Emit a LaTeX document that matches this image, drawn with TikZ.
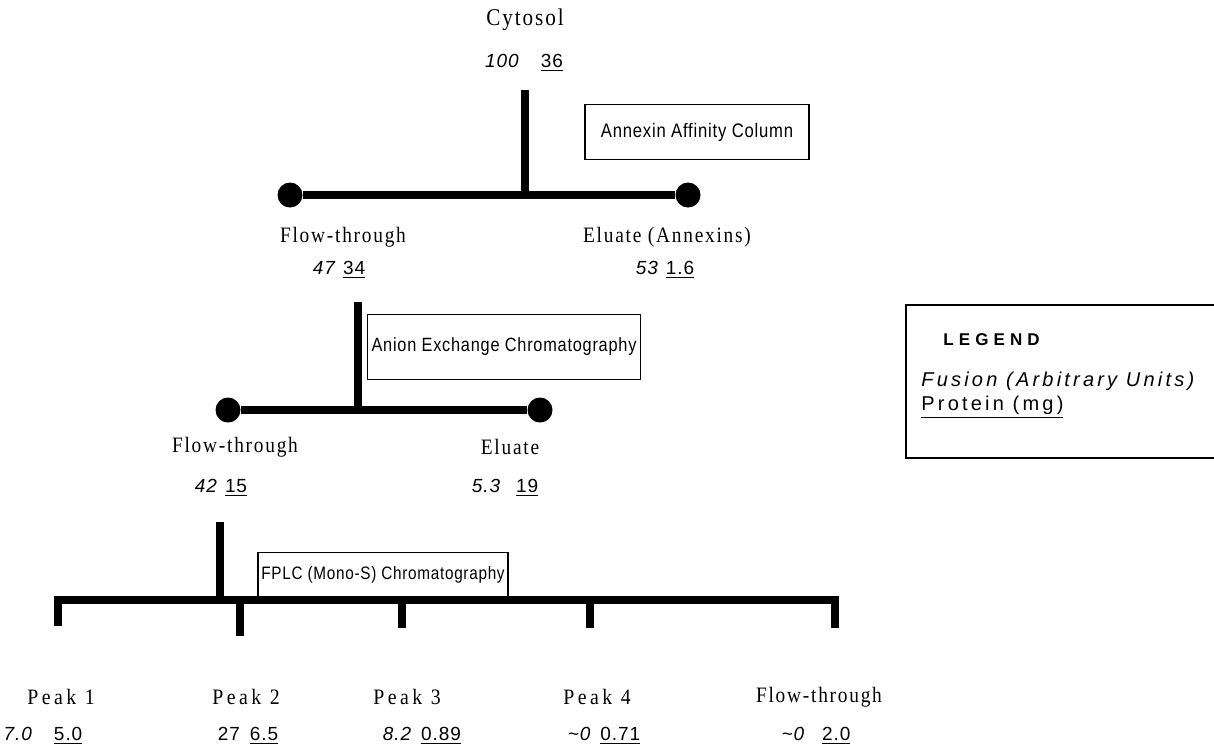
\documentclass[tikz,border=0pt]{standalone}
\usepackage{fontspec}
\usepackage{tikz}
\usetikzlibrary{positioning,calc}
\newfontfamily\lblfont{Liberation Serif}[LetterSpace=8, FakeStretch=0.88]
\newfontfamily\pkfont{Liberation Serif}[LetterSpace=16, FakeStretch=0.9]
\newfontfamily\boxfont{Liberation Sans}[LetterSpace=4, FakeStretch=0.85]
\newfontfamily\numfont{Liberation Sans}[LetterSpace=5]
\newfontfamily\legfont{Liberation Sans}[LetterSpace=30]
\newfontfamily\legtxtfont{Liberation Sans}[LetterSpace=16]
\newcommand\fu[2]{{\itshape #1}\hspace{#2}}
\tikzset{
  title/.style  = {font=\lblfont\fontsize{12}{14}\selectfont, inner sep=0pt},
  lbl/.style    = {font=\lblfont\fontsize{11}{13}\selectfont, inner sep=0pt},
  pk/.style     = {font=\pkfont\fontsize{11}{13}\selectfont, inner sep=0pt},
  val/.style    = {font=\numfont\fontsize{9.5}{11}\selectfont, inner sep=0pt},
  colbox/.style = {draw, line width=0.6pt, font=\boxfont\fontsize{9.8}{11}\selectfont,
                   inner sep=0pt},
  tree/.style   = {line width=3.6pt, line join=miter},
  dot/.style    = {circle, fill, inner sep=0pt, minimum size=12.5pt}
}
\begin{document}
\begin{tikzpicture}[x=0.5pt, y=-0.5pt]
\useasboundingbox (0,0) rectangle (1214,751);

% ---------- cytosol and annexin column ----------
\node[title] (cyto) at (525,20) {Cytosol};
\node[val] (cytoval) at (524,63) {\fu{100}{11pt}\underline{36}};
\coordinate (cytobot) at (525,90);
\node[colbox, minimum width=112pt, minimum height=27.5pt] (annex) at (697,132)
      {Annexin Affinity Column};

\node[dot] (ftA) at (290,195) {};
\node[dot] (elA) at (688,195) {};
\coordinate (jA) at (525,195);
\draw[tree] (ftA) -- (elA);
\draw[tree] (cytobot) -- (jA);

\node[lbl] (ftAlbl) at (343,237) {Flow-through};
\node[val] (ftAval) at (339,270) {\fu{47}{4pt}\underline{34}};
\node[lbl] (elAlbl) at (667,237) {Eluate (Annexins)};
\node[val] (elAval) at (665,270) {\fu{53}{4pt}\underline{1.6}};

% ---------- anion exchange ----------
\coordinate (ftAbot) at (358,302);
\node[colbox, minimum width=136.5pt, minimum height=32.5pt,
      font=\boxfont\fontsize{9.6}{11}\selectfont] (anion) at (504,347)
      {Anion Exchange Chromatography};

\node[dot] (ftB) at (228,410) {};
\node[dot] (elB) at (540,410) {};
\coordinate (jB) at (358,410);
\draw[tree] (ftB) -- (elB);
\draw[tree] (ftAbot) -- (jB);

\node[lbl] (ftBlbl) at (235,447) {Flow-through};
\node[val] (ftBval) at (221,488) {\fu{42}{4pt}\underline{15}};
\node[lbl] (elBlbl) at (510,447) {Eluate};
\node[val] (elBval) at (505,488) {\fu{5.3}{8pt}\underline{19}};

% ---------- FPLC ----------
\coordinate (ftBbot) at (220,522);
\node[colbox, minimum width=125pt, minimum height=22.5pt,
      font=\boxfont\fontsize{9}{11}\selectfont] (fplc) at (383,575)
      {FPLC (Mono-S) Chromatography};

\coordinate (jC) at (220,600);
\coordinate (p1) at (58,626);
\coordinate (p2) at (240,636);
\coordinate (p3) at (402,628);
\coordinate (p4) at (590,628);
\coordinate (p5) at (835,628);
\draw[tree] (p1) |- (jC) -| (p5);
\draw[tree] (ftBbot) -- (jC);
\foreach \p in {p2,p3,p4} { \draw[tree] (\p) -- (\p |- jC); }

\node[pk] (pk1) at (61,697) {Peak 1};
\node[pk] (pk2) at (246,697) {Peak 2};
\node[pk] (pk3) at (407,697) {Peak 3};
\node[pk] (pk4) at (597,697) {Peak 4};
\node[lbl] (pk5) at (819,697) {Flow-through};

\node[val] (pk1val) at (43,736) {\fu{7.0}{11pt}\underline{5.0}};
\node[val] (pk2val) at (248,736) {27\hspace{5pt}\underline{6.5}};
\node[val] (pk3val) at (422,736) {\fu{8.2}{5pt}\underline{0.89}};
\node[val] (pk4val) at (604,736) {\fu{\textasciitilde 0}{5pt}\underline{0.71}};
\node[val] (pk5val) at (816,736) {\fu{\textasciitilde 0}{9pt}\underline{2.0}};

% ---------- legend ----------
\begin{scope}
\clip (0,0) rectangle (1214,751);
\draw[line width=0.6pt] (1240,305) -| (906,458) -- (1240,458);
\end{scope}
\node[font=\legfont\bfseries\fontsize{8.5}{10}\selectfont, anchor=west, inner sep=0pt]
      (leg) at (943,340) {LEGEND};
\node[font=\legtxtfont\fontsize{10}{12}\selectfont, anchor=north west, align=left, inner sep=0pt]
      (legtxt) at (921,372) {\itshape Fusion (Arbitrary Units)\\\underline{Protein (mg)}};
\end{tikzpicture}
\end{document}
